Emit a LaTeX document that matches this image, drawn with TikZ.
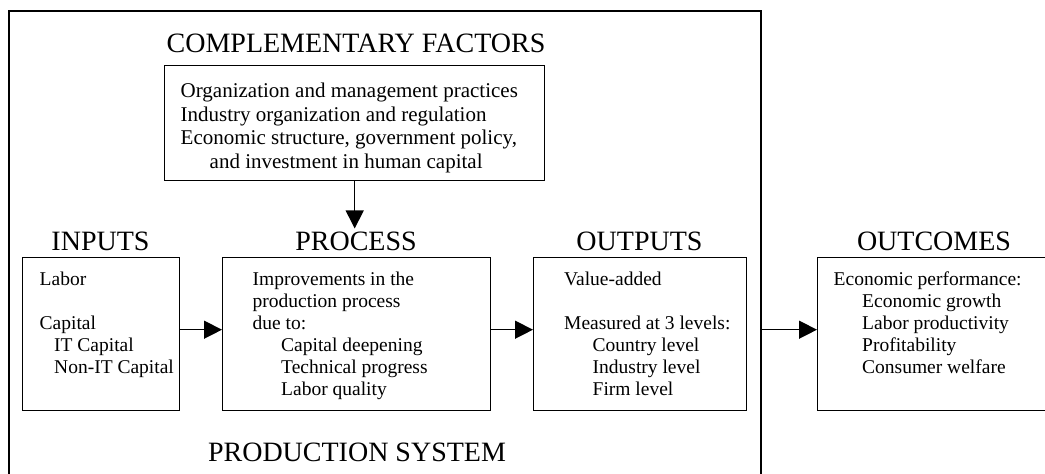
\documentclass[tikz,border=0pt]{standalone}
\usepackage{fontspec}
\setmainfont{Liberation Serif}
\usetikzlibrary{arrows.meta}

\tikzset{
  head/.style={font=\fontsize{28}{30}\selectfont, anchor=base},
  block/.style={draw, line width=1.4pt, inner sep=0pt, anchor=north west,
    font=\fontsize{19.5}{22}\selectfont},
  flow/.style={line width=1.4pt, -{Triangle[length=18pt,width=18pt]}}
}

% text of a box: width, height, left inset, first baseline, lines
\newcommand{\boxbody}[5]{\parbox[t][#2][t]{#1}{\raggedright\leftskip=#3\rule{0pt}{#4}#5}}

\begin{document}
\begin{tikzpicture}[x=1pt,y=-1pt]
		\useasboundingbox (0,0) rectangle (1045,474);
		\clip (0,0) rectangle (1045,474);

		% production system frame
		\node[draw, line width=1.7pt, inner sep=0pt, anchor=north west,
			minimum width=752pt, minimum height=480pt] (system) at (8,10) {};

		% complementary factors
		\node[head] (complabel) at (356,52) {COMPLEMENTARY FACTORS};
		\node[block, font=\fontsize{21}{23.5}\selectfont] (comp) at (164,65)
			{\boxbody{380pt}{115pt}{16pt}{32pt}{Organization and management practices\\
			Industry organization and regulation\\
			Economic structure, government policy,\\
			\hspace*{29pt}and investment in human capital}};

		% the four stages
		\node[head] (inlabel) at (100.5,250.5) {INPUTS};
		\node[block] (inputs) at (22,257)
			{\boxbody{157pt}{153pt}{17pt}{28pt}{Labor\\[22pt]
			Capital\\
			\hspace*{14.5pt}IT Capital\\
			\hspace*{14.5pt}Non-IT Capital}};

		\node[head] (proclabel) at (356,250.5) {PROCESS};
		\node[block] (process) at (222,257)
			{\boxbody{268pt}{153pt}{30pt}{28pt}{Improvements in the\\
			production process\\
			due to:\\
			\hspace*{28.5pt}Capital deepening\\
			\hspace*{28.5pt}Technical progress\\
			\hspace*{28.5pt}Labor quality}};

		\node[head] (outlabel) at (639.5,250.5) {OUTPUTS};
		\node[block] (outputs) at (533,257)
			{\boxbody{213pt}{153pt}{30.5pt}{28pt}{Value-added\\[22pt]
			Measured at 3 levels:\\
			\hspace*{28.5pt}Country level\\
			\hspace*{28.5pt}Industry level\\
			\hspace*{28.5pt}Firm level}};

		\node[head] (outclabel) at (934,250.5) {OUTCOMES};
		\node[block] (outcomes) at (817,257)
			{\boxbody{240pt}{153pt}{16pt}{28pt}{Economic performance:\\
			\hspace*{28.5pt}Economic growth\\
			\hspace*{28.5pt}Labor productivity\\
			\hspace*{28.5pt}Profitability\\
			\hspace*{28.5pt}Consumer welfare}};

		\node[head] (syslabel) at (357,461) {PRODUCTION SYSTEM};

		% arrows
		\coordinate (row) at ([yshift=4.5pt]inputs.east);
		\draw[flow] (comp.south) -- (comp.south |- proclabel.north);
		\draw[flow] (inputs.east |- row) -- (process.west |- row);
		\draw[flow] (process.east |- row) -- (outputs.west |- row);
		\draw[flow] (system.east |- row) -- (outcomes.west |- row);
	\end{tikzpicture}
\end{document}
